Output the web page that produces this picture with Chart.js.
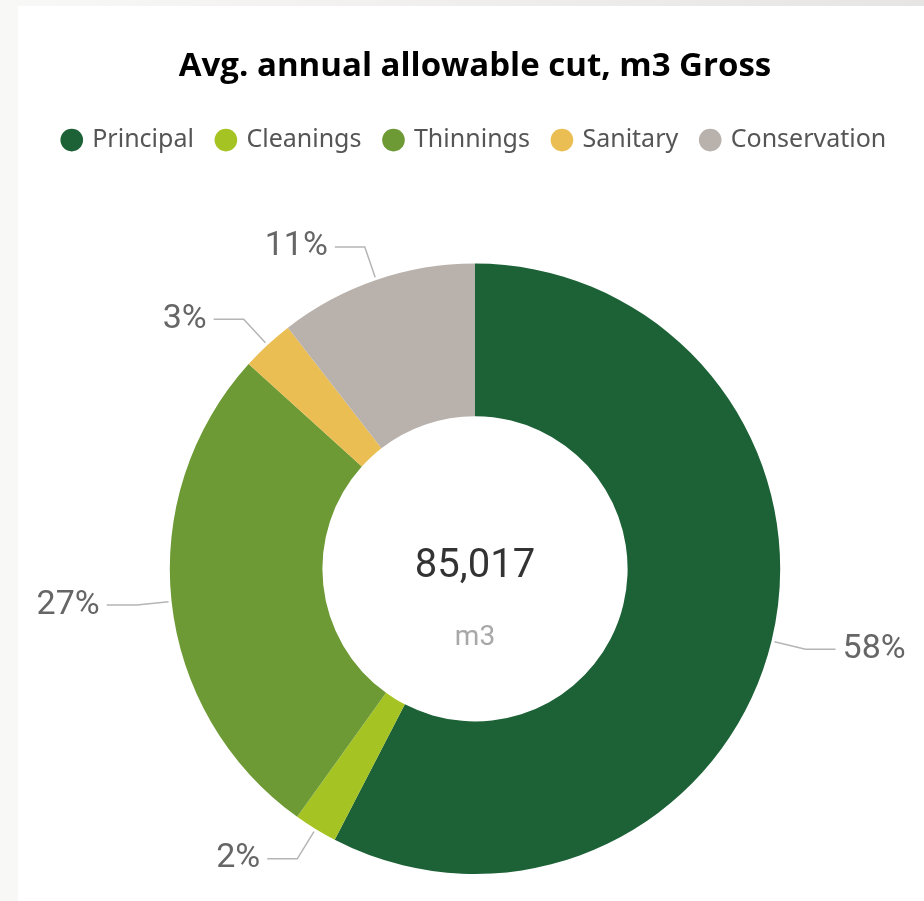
<!DOCTYPE html>
<html>
<head>
<meta charset="utf-8">
<script src="https://cdn.jsdelivr.net/npm/chart.js@4.4.0/dist/chart.umd.min.js"></script>
<style>
    html, body { margin: 0; padding: 0; }
    body { width: 924px; height: 901px; background: #f8f8f7; position: relative; overflow: hidden; }
    .topstrip { position: absolute; left: 0; top: 0; width: 924px; height: 6px; background: linear-gradient(to right, #f8f8f7, #e7e5e3); }
    .card { position: absolute; left: 18px; top: 6px; right: 0; bottom: 0; background: #fff; }
    canvas { position: absolute; left: 0; top: 0; }
</style>
</head>
<body>
<div class="topstrip"></div>
<div class="card"></div>
<canvas id="donut" width="924" height="901"></canvas>
<script>
var categories = ['Principal', 'Cleanings', 'Thinnings', 'Sanitary', 'Conservation'];
var volumes = [48970, 1955, 22785, 2380, 8927];
var colors = ['#1d6237', '#a5c423', '#6d9a34', '#ebbe53', '#b8b1ac'];
var totalLabel = '85,017';
var unitLabel = 'm3';

// push the doughnut down below the legend
var legendGap = {
    id: 'legendGap',
    beforeInit: function (chart) {
        var fit = chart.legend.fit;
        chart.legend.fit = function () {
            fit.bind(chart.legend)();
            this.height += 101;
        };
    }
};

// percent labels with leader lines, like the power bi visual
var outsideLabels = {
    id: 'outsideLabels',
    afterDatasetsDraw: function (chart) {
        var ctx = chart.ctx;
        var meta = chart.getDatasetMeta(0);
        var data = chart.data.datasets[0].data;
        var total = data.reduce(function (a, b) { return a + b; }, 0);
        ctx.save();
        meta.data.forEach(function (arc, i) {
            var mid = (arc.startAngle + arc.endAngle) / 2;
            var r = arc.outerRadius;
            var x0 = arc.x + Math.cos(mid) * (r + 3);
            var y0 = arc.y + Math.sin(mid) * (r + 3);
            var x1 = arc.x + Math.cos(mid) * (r + 35);
            var y1 = arc.y + Math.sin(mid) * (r + 35);
            var right = x1 >= arc.x;
            var x2 = right ? x1 + 30 : x1 - 30;
            ctx.strokeStyle = '#b5b5b5';
            ctx.lineWidth = 1.5;
            ctx.beginPath();
            ctx.moveTo(x0, y0);
            ctx.lineTo(x1, y1);
            ctx.lineTo(x2, y1);
            ctx.stroke();
            ctx.fillStyle = '#666';
            ctx.font = '34px Roboto';
            ctx.textBaseline = 'middle';
            ctx.textAlign = right ? 'left' : 'right';
            var pct = Math.round(data[i] / total * 100) + '%';
            ctx.fillText(pct, right ? x2 + 7 : x2 - 7, y1);
        });
        ctx.restore();
    }
};

var centerText = {
    id: 'centerText',
    afterDraw: function (chart) {
        var ctx = chart.ctx;
        var arc = chart.getDatasetMeta(0).data[0];
        ctx.save();
        ctx.textAlign = 'center';
        ctx.textBaseline = 'middle';
        ctx.fillStyle = '#333333';
        ctx.font = '40px Roboto';
        ctx.fillText(totalLabel, arc.x, arc.y - 2);
        ctx.fillStyle = '#a8a8a8';
        ctx.font = '28px Roboto';
        ctx.fillText(unitLabel, arc.x, arc.y + 69);
        ctx.restore();
    }
};

var ctx = document.getElementById('donut').getContext('2d');
var myChart = new Chart(ctx, {
    type: 'doughnut',
    data: {
        labels: categories,
        datasets: [{
            data: volumes,
            backgroundColor: colors,
            borderWidth: 0
        }]
    },
    options: {
        responsive: false,
        animation: false,
        cutout: '50%',
        layout: {
            padding: { left: 26, right: 0, top: 0, bottom: 27 }
        },
        plugins: {
            title: {
                display: true,
                text: 'Avg. annual allowable cut, m3 Gross',
                color: '#000',
                font: { family: 'Open Sans', size: 33, weight: 'bold' },
                padding: { top: 47, bottom: 17 }
            },
            legend: {
                display: true,
                labels: {
                    usePointStyle: true,
                    pointStyle: 'circle',
                    boxWidth: 16,
                    boxHeight: 16,
                    color: '#555',
                    font: { family: 'Noto Sans', size: 25 },
                    padding: 24
                }
            },
            tooltip: { enabled: false }
        }
    },
    plugins: [legendGap, outsideLabels, centerText]
});
</script>
</body>
</html>
